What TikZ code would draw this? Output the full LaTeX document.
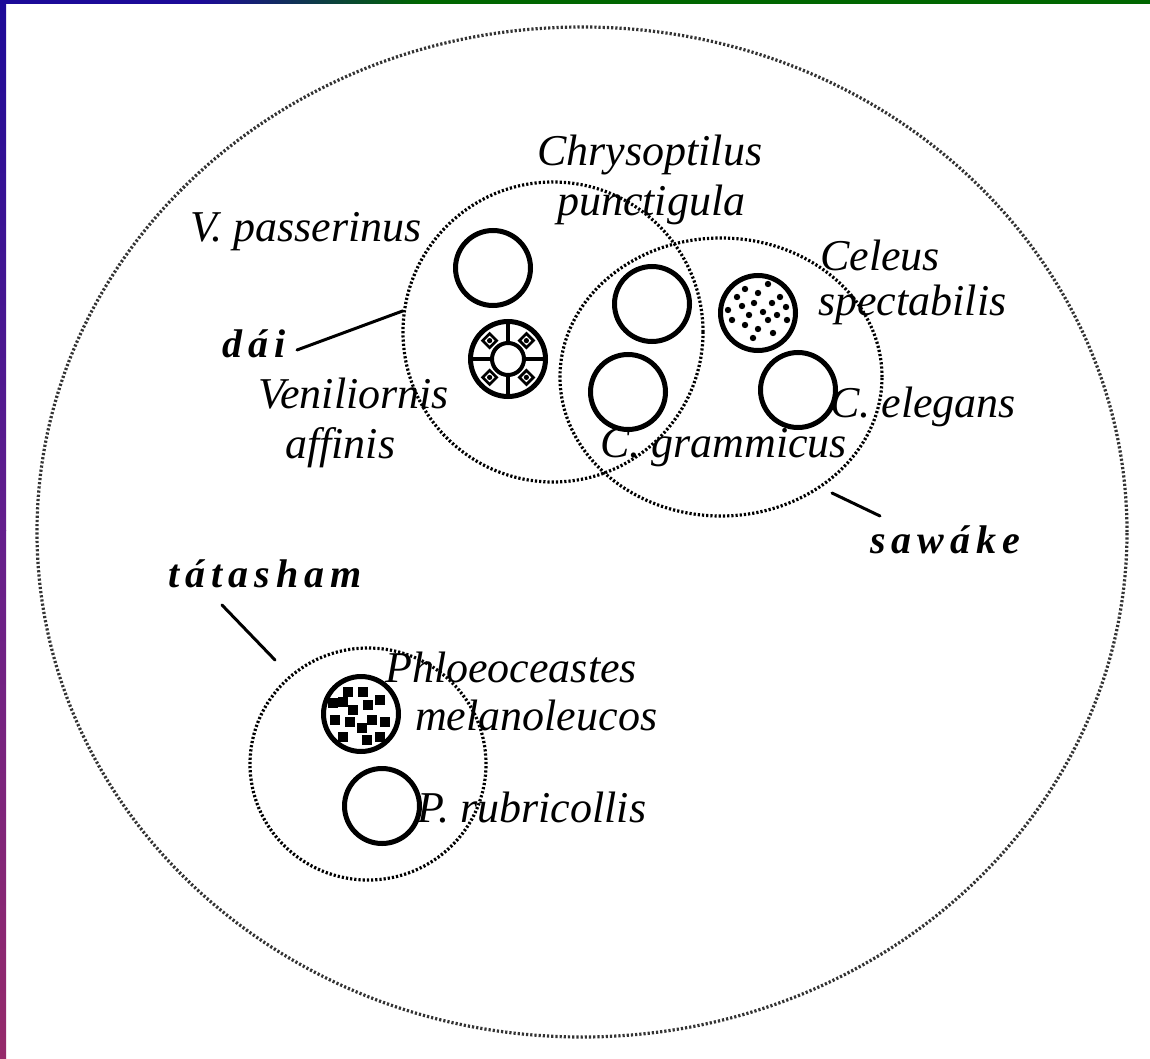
\documentclass[tikz,border=0pt]{standalone}
\usepackage{fontspec}
\setmainfont{Liberation Serif}
\newfontfamily\grpfont[LetterSpace=15]{Liberation Serif}
\usetikzlibrary{shapes.geometric,calc}
\definecolor{barblue}{RGB}{28,10,152}
\definecolor{barmid}{RGB}{100,30,140}
\definecolor{barred}{RGB}{150,42,106}
\definecolor{bargreen}{RGB}{0,102,0}
\begin{document}
\begin{tikzpicture}[x=1pt,y=-1pt,
  sp/.style={font=\fontsize{44}{46}\selectfont\itshape, inner sep=0pt, anchor=base west},
  grp/.style={font=\grpfont\fontsize{40}{44}\selectfont\bfseries\itshape, inner sep=0pt, anchor=base west},
  ring/.style={ellipse, draw=black, line width=3.2pt, dash pattern=on 2.2pt off 2pt, inner sep=0pt},
  bigring/.style={ellipse, draw=black!80, line width=3.2pt, dash pattern=on 2.2pt off 2pt, inner sep=0pt},
  bird/.style={circle, draw=black, line width=5pt, fill=white, minimum size=75pt, inner sep=0pt},
  lead/.style={draw=black, line width=3pt, line cap=round}]
\useasboundingbox (0,0) rectangle (1150,1059);
\fill[white] (0,0) rectangle (1150,1059);
% frame bars
\fill[bargreen] (0,0) rectangle (1150,4);
\shade[left color=barblue, right color=bargreen] (200,0) rectangle (420,4);
\fill[barblue] (0,0) rectangle (200,4);
\shade[top color=barblue, bottom color=barmid] (0,0) rectangle (6,530);
\shade[top color=barmid, bottom color=barred] (0,530) rectangle (6,1059);

% group rings
\node[bigring, minimum width=1090pt, minimum height=1010pt] (world) at (582,532) {};
\node[ring, minimum width=300pt, minimum height=300pt] (dai) at (553,332) {};
\node[ring, minimum width=322pt, minimum height=278pt] (saw) at (721,377) {};
\node[ring, minimum width=236pt, minimum height=232pt] (tat) at (368,764) {};

% birds
\node[bird] (vpass) at (493,268) {};
\node[bird] (venil) at (508,359) {};
\node[bird] (chrys) at (652,304) {};
\node[bird] (cgram) at (628,392) {};
\node[bird] (celeus) at (758,313) {};
\node[bird] (celeg) at (798,390) {};
\node[bird] (phlo) at (361,714) {};
\node[bird] (prub) at (382,806) {};

% Veniliornis pattern
\begin{scope}[shift={(venil.center)}]
  \draw[line width=4pt] (0,0) circle (16);
  \foreach \a in {0,90,180,270} \draw[line width=4.5pt] (\a:16) -- (\a:36);
  \foreach \a in {45,135,225,315} {
    \draw[line width=2.8pt, fill=white] ($(\a:26)+(0,-7)$) -- ($(\a:26)+(7,0)$) -- ($(\a:26)+(0,7)$) -- ($(\a:26)+(-7,0)$) -- cycle;
    \fill (\a:26) circle (2.6);
  }
\end{scope}

% Celeus dots
\foreach \x/\y in {745/289,768/284,737/297,758/293,780/297,742/306,754/303,772/303,786/307,732/320,749/315,763/312,777/315,745/325,768/320,758/329,773/333,753/338,728/310,787/320}
  \fill (\x,\y) circle (3.2);

% Phloeoceastes squares
\foreach \x/\y in {348/692,363/692,343/702,380/700,353/710,368/705,335/720,350/722,372/720,385/722,362/728,343/737,367/740,380/737,333/703}
  \fill (\x-5,\y-5) rectangle ++(10,10);

% species labels
\node[sp] (lchrys) at (537,166) {Chrysoptilus};
\node[sp] (lpunct) at (557,216) {punctigula};
\node[sp] (lvpass) at (190,242) {V. passerinus};
\node[sp] (lceleus) at (820,270) {Celeus};
\node[sp] (lspect) at (818,315) {spectabilis};
\node[sp] (lvenil) at (258,408) {Veniliornis};
\node[sp] (laffin) at (285,458) {affinis};
\node[sp] (lceleg) at (830,417) {C. elegans};
\node[sp] (lcgram) at (600,457) {C. grammicus};
\node[sp] (lphlo) at (385,682) {Phloeoceastes};
\node[sp] (lmelan) at (415,730) {melanoleucos};
\node[sp] (lprub) at (417,822) {P. rubricollis};

% group labels
\node[grp] (ldai) at (222,357) {dái};
\node[grp] (lsaw) at (870,553) {sawáke};
\node[grp] (ltat) at (168,587) {tátasham};

% leader lines
\coordinate (daiA) at (297,350);
\coordinate (sawA) at (880,516);
\coordinate (sawB) at (832,493);
\coordinate (tatA) at (222,605);
\coordinate (tatB) at (275,660);
\draw[lead] (daiA) -- (dai.172);
\draw[lead] (sawA) -- (sawB);
\draw[lead] (tatA) -- (tatB);
\end{tikzpicture}
\end{document}
